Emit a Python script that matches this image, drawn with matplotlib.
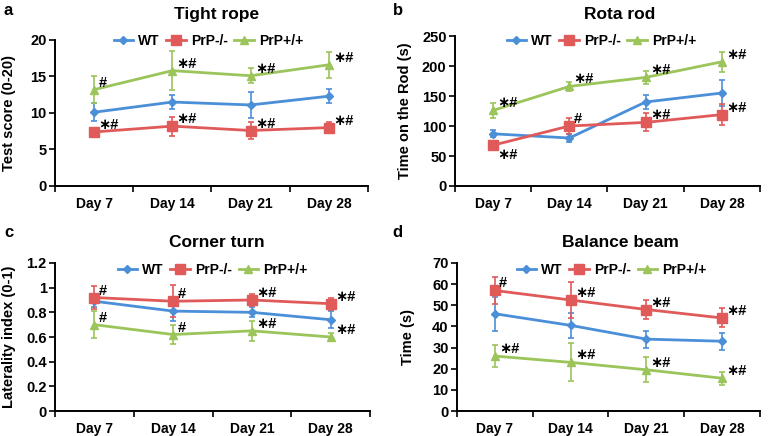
import matplotlib.pyplot as plt
from matplotlib.lines import Line2D
import numpy as np

plt.rcParams['font.family'] = ['Liberation Sans', 'DejaVu Sans']
plt.rcParams['font.weight'] = 'bold'

days = ['Day 7', 'Day 14', 'Day 21', 'Day 28']
groups = ['WT', 'PrP-/-', 'PrP+/+']

# tight rope
rope_wt = [10.1, 11.5, 11.1, 12.3]
rope_wt_err = [1.2, 0.9, 1.8, 1.0]
rope_ko = [7.4, 8.2, 7.6, 8.0]
rope_ko_err = [0.5, 1.3, 1.1, 0.8]
rope_oe = [13.2, 15.8, 15.1, 16.6]
rope_oe_err = [1.8, 2.7, 1.0, 1.8]

# rota rod
rod_wt = [87, 80, 140, 155]
rod_wt_err = [6, 6, 11, 22]
rod_ko = [68, 100, 106, 119]
rod_ko_err = [6, 13, 15, 18]
rod_oe = [126, 166, 181, 207]
rod_oe_err = [12, 8, 11, 17]

# corner turn
corner_wt = [0.89, 0.81, 0.80, 0.74]
corner_wt_err = [0.05, 0.08, 0.04, 0.07]
corner_ko = [0.92, 0.89, 0.90, 0.87]
corner_ko_err = [0.09, 0.13, 0.05, 0.05]
corner_oe = [0.70, 0.62, 0.65, 0.60]
corner_oe_err = [0.11, 0.08, 0.08, 0.03]

# balance beam
beam_wt = [46, 40.5, 34, 33]
beam_wt_err = [8, 6, 4, 4]
beam_ko = [57, 52.5, 48, 44]
beam_ko_err = [6.5, 8.5, 4.5, 4.5]
beam_oe = [26, 23, 19.5, 15.5]
beam_oe_err = [5, 9, 6, 3]

# significance marks per group (None = no mark)
rope_marks = [[None] * 4, ['*#'] * 4, ['#', '*#', '*#', '*#']]
rod_marks = [[None] * 4, ['*#', '#', '*#', '*#'], ['*#'] * 4]
corner_marks = [[None] * 4, ['#', '#', '*#', '*#'], ['#', '#', '*#', '*#']]
beam_marks = [[None] * 4, ['#', '*#', '*#', '*#'], ['*#'] * 4]

colors = ['#4a8fd8', '#e05a5a', '#9bc45a']
markers = ['D', 's', '^']
msizes = [4.5, 7, 6]

panels = [
    dict(letter='a', title='Tight rope', ylabel='Test score (0-20)',
         data=[(rope_wt, rope_wt_err), (rope_ko, rope_ko_err), (rope_oe, rope_oe_err)],
         marks=rope_marks, ylim=20, step=5,
         rect=[0.0706, 0.5734, 0.4018, 0.3349], leg=(0.49, 0.993),
         tpos=(0.2786, 0.9656), lpos=(0.004, 0.977), ylx=0.011),
    dict(letter='b', title='Rota rod', ylabel='Time on the Rod (s)',
         data=[(rod_wt, rod_wt_err), (rod_ko, rod_ko_err), (rod_oe, rod_oe_err)],
         marks=rod_marks, ylim=250, step=50,
         rect=[0.584, 0.5734, 0.3916, 0.344], leg=(0.48, 0.967),
         tpos=(0.796, 0.9656), lpos=(0.504, 0.977), ylx=0.52),
    dict(letter='c', title='Corner turn', ylabel='Laterality index (0-1)',
         data=[(corner_wt, corner_wt_err), (corner_ko, corner_ko_err), (corner_oe, corner_oe_err)],
         marks=corner_marks, ylim=1.2, step=0.2,
         rect=[0.0706, 0.0573, 0.4044, 0.3395], leg=(0.5, 0.953),
         tpos=(0.2786, 0.4427), lpos=(0.006, 0.4656), ylx=0.011),
    dict(letter='d', title='Balance beam', ylabel='Time (s)',
         data=[(beam_wt, beam_wt_err), (beam_ko, beam_ko_err), (beam_oe, beam_oe_err)],
         marks=beam_marks, ylim=70, step=10,
         rect=[0.5866, 0.0573, 0.389, 0.3395], leg=(0.51, 0.953),
         tpos=(0.796, 0.4427), lpos=(0.504, 0.4656), ylx=0.524),
]

fig = plt.figure(figsize=(7.79, 4.36), dpi=100)
x = np.arange(1, len(days) + 1)

for p in panels:
    ax = fig.add_axes(p['rect'])
    handles = []
    for gi, (vals, errs) in enumerate(p['data']):
        ax.errorbar(x, vals, yerr=errs, color=colors[gi], marker=markers[gi],
                    markersize=msizes[gi], lw=2, elinewidth=1.2, capsize=2.5,
                    capthick=1.2, zorder=3)
        handles.append(Line2D([], [], color=colors[gi], marker=markers[gi],
                              markersize=msizes[gi], lw=2, label=groups[gi]))
        for xi, v, m in zip(x, vals, p['marks'][gi]):
            if m is None:
                continue
            txt = m.replace('*', '\u2217')
            dy, va = 0, 'bottom'
            if p['letter'] == 'b' and gi == 1 and xi == 1:
                dy, va = -2, 'top'
            ax.annotate(txt, (xi, v), xytext=(3, dy), textcoords='offset points',
                        ha='left', va=va, fontsize=10.5, fontweight='bold', zorder=4)
    ax.set_xlim(0.5, 4.5)
    ax.set_ylim(0, p['ylim'])
    yt = np.arange(0, p['ylim'] + p['step'] / 2, p['step'])
    ax.set_yticks(yt)
    ax.set_yticklabels(['{:g}'.format(round(t, 2)) for t in yt])
    ax.set_xticks(x)
    ax.set_xticklabels(days)
    ax.set_xticks(np.arange(0.5, 4.6, 1), minor=True)
    ax.tick_params(axis='x', which='major', length=0, pad=8, labelsize=10)
    ax.tick_params(axis='x', which='minor', length=4, width=1.2)
    ax.tick_params(axis='y', length=4, width=1.2, labelsize=10.5, pad=2)
    for s in ['top', 'right']:
        ax.spines[s].set_visible(False)
    for s in ['left', 'bottom']:
        ax.spines[s].set_linewidth(1.4)
    ax.set_ylabel(p['ylabel'], fontsize=10.5, fontweight='bold', va='center')
    ax.yaxis.set_label_coords(p['ylx'], p['rect'][1] + p['rect'][3] / 2,
                              transform=fig.transFigure)
    ax.legend(handles=handles, loc='center', bbox_to_anchor=p['leg'], ncol=3,
              frameon=False, fontsize=10, handlelength=1.4, columnspacing=0.5,
              handletextpad=0.35, borderaxespad=0)
    fig.text(p['tpos'][0], p['tpos'][1], p['title'], fontsize=12.5,
             fontweight='bold', ha='center', va='center')
    fig.text(p['lpos'][0], p['lpos'][1], p['letter'], fontsize=12,
             fontweight='bold', ha='left', va='center')

fig.savefig('out.png', dpi=100)
